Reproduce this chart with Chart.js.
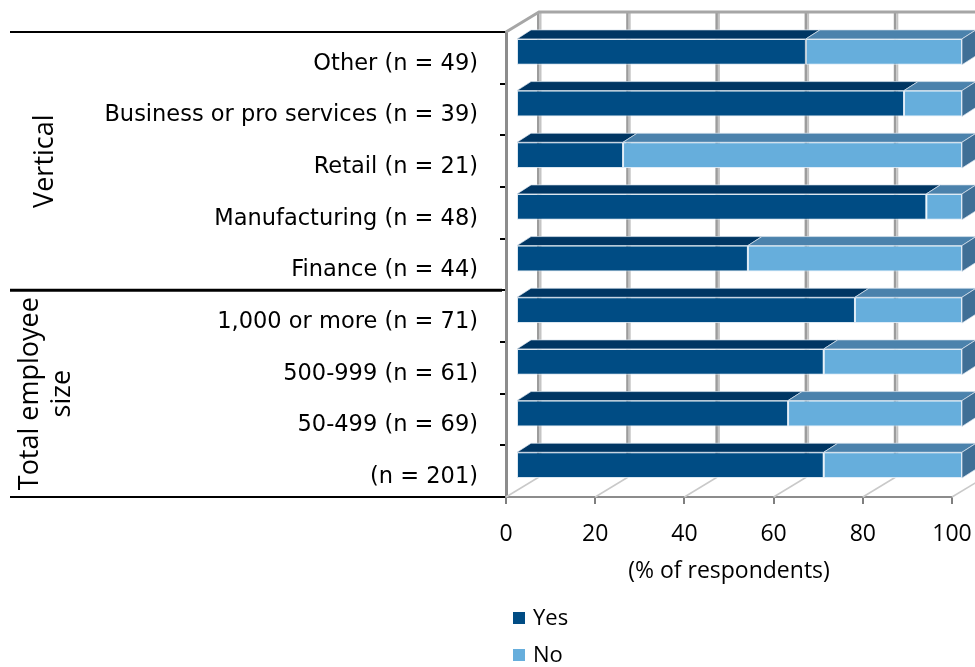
<!DOCTYPE html>
<html><head><meta charset="utf-8">
<script src="https://cdn.jsdelivr.net/npm/chart.js@4/dist/chart.umd.min.js"></script>
<style>html,body{margin:0;padding:0;background:#fff;}#wrap{width:975px;height:667px;}</style>
</head><body><div id="wrap"><canvas id="c" width="975" height="667"></canvas></div>
<script>
const categories = ["Other (n = 49)", "Business or pro services (n = 39)", "Retail (n = 21)", "Manufacturing (n = 48)", "Finance (n = 44)", "1,000 or more (n = 71)", "500-999 (n = 61)", "50-499 (n = 69)", "(n = 201)"];
const yesValues = [65, 87, 24, 92, 52, 76, 69, 61, 69];
const noValues = [35, 13, 76, 8, 48, 24, 31, 39, 31];
const seriesNames = ["Yes", "No"];
const xTicks = [0, 20, 40, 60, 80, 100];
const groupLabels = [["Vertical"], ["Total employee", "size"]];
const groupSizes = [5, 4];
const axisTitle = "(% of respondents)";

const frontColors = ["#004C84", "#66AEDC"];
const topColors = ["#003663", "#4B82AC"];
const sideColors = ["#003663", "#3F6F96"];
const BAR_DX = 10, BAR_DY = -6;
const DEPTH_X = 14, DEPTH_Y = -9;
const WALL_X = 33, WALL_Y = -20;

const zeroPad = s => { s.paddingTop = 0; s.paddingBottom = 0; s.paddingLeft = 0; s.paddingRight = 0; };

const threeD = {
  id: 'threeD',
  beforeDatasetsDraw(chart) {
    const ctx = chart.ctx, a = chart.chartArea, xs = chart.scales.x;
    ctx.save();
    ctx.strokeStyle = '#c9c9c9'; ctx.lineWidth = 1.5;
    xTicks.forEach(v => {
      const px = xs.getPixelForValue(v);
      ctx.beginPath(); ctx.moveTo(px, a.bottom); ctx.lineTo(px + WALL_X, a.bottom + WALL_Y); ctx.stroke();
    });
    xTicks.forEach(v => {
      const px = xs.getPixelForValue(v) + WALL_X;
      ctx.fillStyle = '#9c9c9c';
      ctx.fillRect(px - 2, a.top + WALL_Y, 2.5, a.bottom - a.top);
      ctx.fillStyle = '#c4c4c4';
      ctx.fillRect(px + 0.5, a.top + WALL_Y, 2, a.bottom - a.top);
    });
    ctx.strokeStyle = '#a6a6a6'; ctx.lineWidth = 3;
    ctx.beginPath();
    ctx.moveTo(a.left, a.top);
    ctx.lineTo(a.left + WALL_X, a.top + WALL_Y);
    ctx.lineTo(a.right + WALL_X + 20, a.top + WALL_Y);
    ctx.stroke();
    ctx.restore();
    ctx.save();
    ctx.translate(BAR_DX, BAR_DY);
  },
  afterDatasetsDraw(chart) {
    const ctx = chart.ctx;
    const n = chart.data.datasets.length;
    chart.data.datasets.forEach((ds, d) => {
      const meta = chart.getDatasetMeta(d);
      meta.data.forEach(bar => {
        const p = bar.getProps(['x', 'y', 'base', 'height'], true);
        const l = Math.min(p.x, p.base), r = Math.max(p.x, p.base);
        const t = p.y - p.height / 2, b = p.y + p.height / 2;
        ctx.fillStyle = topColors[d];
        ctx.beginPath();
        ctx.moveTo(l, t); ctx.lineTo(r, t);
        ctx.lineTo(r + DEPTH_X, t + DEPTH_Y); ctx.lineTo(l + DEPTH_X, t + DEPTH_Y);
        ctx.closePath(); ctx.fill();
        ctx.strokeStyle = 'rgba(220,230,240,0.7)'; ctx.lineWidth = 1; ctx.stroke();
        if (d === n - 1) {
          ctx.fillStyle = sideColors[d];
          ctx.beginPath();
          ctx.moveTo(r, t); ctx.lineTo(r + DEPTH_X, t + DEPTH_Y);
          ctx.lineTo(r + DEPTH_X, b + DEPTH_Y); ctx.lineTo(r, b);
          ctx.closePath(); ctx.fill(); ctx.stroke();
        }
      });
    });
    ctx.restore();
  },
  afterDraw(chart) {
    const ctx = chart.ctx, ys = chart.scales.y;
    ctx.save();
    ctx.strokeStyle = '#000';
    let start = 0;
    const bounds = [0];
    groupSizes.forEach(s => { start += s; bounds.push(start); });
    bounds.forEach((bi, k) => {
      const y = ys.getPixelForValue(bi - 0.5);
      ctx.lineWidth = (k === 0 || k === bounds.length - 1) ? 2 : 3;
      ctx.beginPath(); ctx.moveTo(10, y); ctx.lineTo(502, y); ctx.stroke();
    });
    ctx.fillStyle = '#000';
    ctx.font = '27px "Open Sans"';
    ctx.textAlign = 'center'; ctx.textBaseline = 'middle';
    const groupX = [[45], [30, 62]];
    groupLabels.forEach((lines, g) => {
      const y0 = ys.getPixelForValue(bounds[g] - 0.5), y1 = ys.getPixelForValue(bounds[g + 1] - 0.5);
      const cy = (y0 + y1) / 2;
      lines.forEach((txt, li) => {
        ctx.save();
        ctx.translate(groupX[g][li], cy);
        ctx.rotate(-Math.PI / 2);
        ctx.fillText(txt, 0, 0);
        ctx.restore();
      });
    });
    ctx.font = '22px "Open Sans"';
    ctx.textAlign = 'left';
    chart.data.datasets.forEach((ds, d) => {
      const cy = 618 + d * 37;
      ctx.fillStyle = ds.backgroundColor;
      ctx.fillRect(513, cy - 6, 12, 12);
      ctx.fillStyle = '#000';
      ctx.fillText(ds.label, 533, cy + 1);
    });
    ctx.restore();
  }
};

new Chart(document.getElementById('c'), {
  type: 'bar',
  data: {
    labels: categories,
    datasets: [
      { label: seriesNames[0], data: yesValues, backgroundColor: frontColors[0], borderColor: 'rgba(210,225,238,0.8)', borderWidth: 1, borderSkipped: false, clip: false },
      { label: seriesNames[1], data: noValues, backgroundColor: frontColors[1], borderColor: 'rgba(220,235,248,0.9)', borderWidth: 1, borderSkipped: false, clip: false }
    ]
  },
  options: {
    responsive: false, animation: false, devicePixelRatio: 1,
    indexAxis: 'y',
    categoryPercentage: 1, barPercentage: 0.5,
    layout: { padding: { top: 32, right: 23, bottom: 82, left: 0 } },
    plugins: { legend: { display: false }, tooltip: { enabled: false } },
    scales: {
      x: {
        type: 'linear', stacked: true, min: 0, max: 100, position: 'bottom',
        afterBuildTicks: s => { s.ticks = xTicks.map(v => ({ value: v })); },
        afterFit: s => { s.height = 88; zeroPad(s); },
        grid: { drawOnChartArea: false, drawTicks: true, tickLength: 7, color: '#7f7f7f', lineWidth: 2 },
        border: { display: true, color: '#8c8c8c', width: 2 },
        ticks: { font: { family: 'Open Sans', size: 23 }, color: '#000', padding: 17 },
        title: { display: true, text: axisTitle, font: { family: 'Open Sans', size: 23 }, color: '#000', padding: 0 }
      },
      y: {
        stacked: true,
        afterFit: s => { s.width = 506; zeroPad(s); },
        grid: { drawOnChartArea: false, drawTicks: true, tickLength: 6, color: '#000', lineWidth: 2, offset: true },
        border: { display: true, color: '#8c8c8c', width: 3 },
        ticks: { font: { family: 'DejaVu Sans', size: 22.5 }, color: '#000', padding: 22, labelOffset: 6, autoSkip: false }
      }
    }
  },
  plugins: [threeD]
});
</script></body></html>
